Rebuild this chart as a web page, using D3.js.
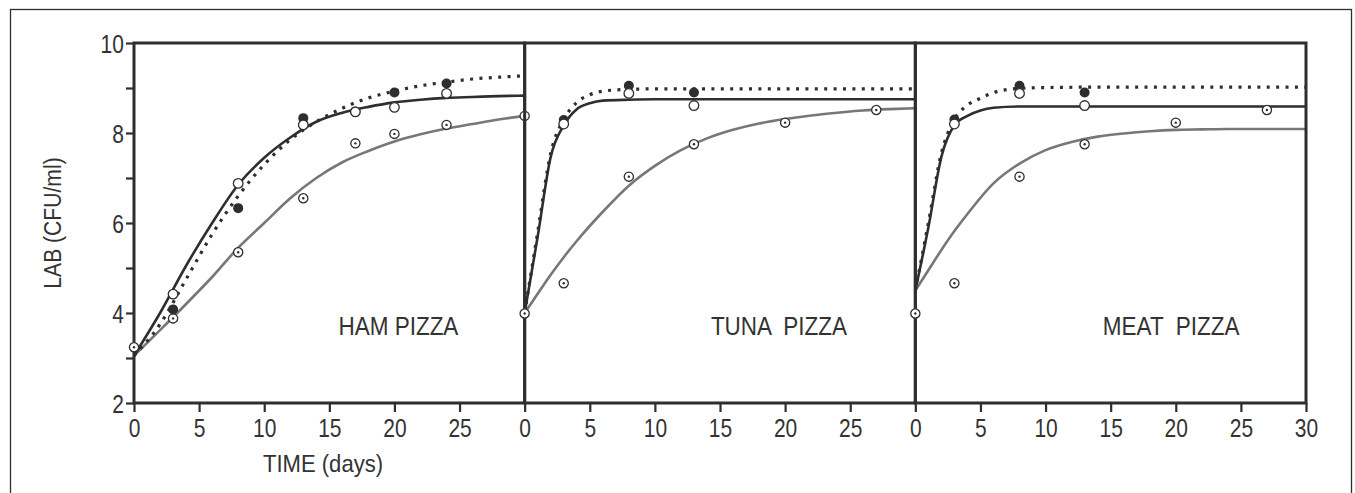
<!DOCTYPE html>
<html>
<head>
<meta charset="utf-8">
<script src="https://cdn.jsdelivr.net/npm/d3@7"></script>
<style>
  html, body { margin: 0; padding: 0; background: #fff; }
  svg { display: block; }
  text { font-family: "Liberation Sans", Arial, sans-serif; fill: #333; }
</style>
</head>
<body>
<svg id="chart" width="1355" height="493"></svg>
<script>
// Panels (one per pizza type)
const panelNames = ["HAM PIZZA", "TUNA  PIZZA", "MEAT  PIZZA"];
// Day at which each panel's label starts
const panelLabelDay = [15.7, 14.3, 14.4];

// Axis ticks
const yTicks = [2, 3, 4, 5, 6, 7, 8, 9, 10];
const yLabelTicks = [2, 4, 6, 8, 10];
const xTicksInner = [0, 5, 10, 15, 20, 25];
const xTicksLast = [0, 5, 10, 15, 20, 25, 30];

// Observed counts: filled circles
const hamFilledDays = [3, 8, 13, 17, 20, 24];
const hamFilled = [4.08, 6.33, 8.33, 8.48, 8.90, 9.10];
const tunaFilledDays = [3, 8, 13];
const tunaFilled = [8.29, 9.05, 8.90];
const meatFilledDays = [3, 8, 13];
const meatFilled = [8.30, 9.05, 8.90];

// Observed counts: open circles
const hamOpenDays = [3, 8, 13, 17, 20, 24];
const hamOpen = [4.42, 6.88, 8.18, 8.47, 8.57, 8.88];
const tunaOpenDays = [3, 8, 13];
const tunaOpen = [8.20, 8.88, 8.61];
const meatOpenDays = [3, 8, 13];
const meatOpen = [8.20, 8.88, 8.61];

// Observed counts: dotted circles
const hamDotDays = [0, 3, 8, 13, 17, 20, 24, 30];
const hamDot = [3.24, 3.88, 5.35, 6.55, 7.77, 7.98, 8.18, 8.38];
const tunaDotDays = [0, 3, 8, 13, 20, 27];
const tunaDot = [3.99, 4.66, 7.03, 7.75, 8.23, 8.51];
const meatDotDays = [0, 3, 8, 13, 20, 27];
const meatDot = [3.99, 4.66, 7.03, 7.75, 8.23, 8.51];

// Fitted growth curves
const hamCurveDays = [0, 2, 4, 6, 8, 10, 12, 14, 16, 18, 20, 22, 24, 26, 28, 30];
const hamSolid  = [3.05, 4.00, 5.05, 6.00, 6.85, 7.45, 7.90, 8.25, 8.45, 8.58, 8.68, 8.74, 8.78, 8.80, 8.82, 8.83];
const hamDotted = [3.05, 3.75, 4.75, 5.75, 6.60, 7.30, 7.85, 8.25, 8.55, 8.78, 8.93, 9.05, 9.13, 9.20, 9.24, 9.27];
const hamGray   = [3.05, 3.62, 4.20, 4.80, 5.45, 6.00, 6.55, 7.00, 7.35, 7.60, 7.81, 7.97, 8.10, 8.20, 8.30, 8.38];

const fastCurveDays = [0, 1, 2, 3, 4, 5, 6, 8, 10, 15, 20, 25, 30];
const tunaSolid  = [4.00, 5.70, 7.47, 8.17, 8.53, 8.66, 8.72, 8.74, 8.75, 8.75, 8.75, 8.75, 8.75];
const tunaDotted = [4.00, 5.80, 7.55, 8.30, 8.68, 8.85, 8.93, 8.97, 8.98, 8.98, 8.98, 8.98, 8.98];
const meatSolid  = [4.50, 5.90, 7.47, 8.17, 8.38, 8.50, 8.56, 8.59, 8.59, 8.59, 8.59, 8.59, 8.59];
const meatDotted = [4.50, 6.00, 7.55, 8.30, 8.62, 8.77, 8.90, 8.99, 9.01, 9.02, 9.02, 9.02, 9.02];

const slowCurveDays = [0, 1, 2, 3, 4, 6, 8, 10, 12, 14, 16, 18, 20, 22, 24, 26, 28, 30];
const tunaGray = [4.00, 4.43, 4.85, 5.24, 5.60, 6.25, 6.83, 7.27, 7.62, 7.88, 8.07, 8.21, 8.31, 8.39, 8.45, 8.50, 8.53, 8.55];
const meatGray = [4.50, 4.95, 5.40, 5.82, 6.20, 6.88, 7.32, 7.62, 7.80, 7.92, 7.99, 8.04, 8.07, 8.08, 8.09, 8.09, 8.09, 8.09];

const zip = (xs, ys) => xs.map((x, i) => ({ x, y: ys[i] }));

const panels = [
  {
    name: panelNames[0], labelDay: panelLabelDay[0], ticks: xTicksInner,
    gray: zip(hamCurveDays, hamGray), solid: zip(hamCurveDays, hamSolid), dotted: zip(hamCurveDays, hamDotted),
    dot: zip(hamDotDays, hamDot), filled: zip(hamFilledDays, hamFilled), open: zip(hamOpenDays, hamOpen)
  },
  {
    name: panelNames[1], labelDay: panelLabelDay[1], ticks: xTicksInner,
    gray: zip(slowCurveDays, tunaGray), solid: zip(fastCurveDays, tunaSolid), dotted: zip(fastCurveDays, tunaDotted),
    dot: zip(tunaDotDays, tunaDot), filled: zip(tunaFilledDays, tunaFilled), open: zip(tunaOpenDays, tunaOpen)
  },
  {
    name: panelNames[2], labelDay: panelLabelDay[2], ticks: xTicksLast,
    gray: zip(slowCurveDays, meatGray), solid: zip(fastCurveDays, meatSolid), dotted: zip(fastCurveDays, meatDotted),
    dot: zip(meatDotDays, meatDot), filled: zip(meatFilledDays, meatFilled), open: zip(meatOpenDays, meatOpen)
  }
];

const svg = d3.select("#chart");
const ink = "#2e2e2e";
const narrow = "scale(0.84,1)";   // condensed look for the lettering

// Outer frame
svg.append("rect")
  .attr("x", 10.5).attr("y", 9.5)
  .attr("width", 1341).attr("height", 520)
  .attr("fill", "none").attr("stroke", ink).attr("stroke-width", 1.3);

const plotLeft = 134, plotRight = 1306, plotTop = 43, plotBottom = 403;
const panelW = (plotRight - plotLeft) / 3;

const y = d3.scaleLinear().domain([2, 10]).range([plotBottom, plotTop]);

// Y axis
const yAxis = d3.axisLeft(y)
  .tickValues(yTicks)
  .tickSize(8)
  .tickPadding(4)
  .tickFormat(d => yLabelTicks.includes(d) ? d3.format("d")(d) : "");
const gy = svg.append("g").attr("transform", `translate(${plotLeft},0)`).call(yAxis);
gy.select(".domain").remove();
gy.selectAll(".tick line").attr("stroke", ink).attr("stroke-width", 2.2);
gy.selectAll(".tick text").attr("font-size", 25).attr("dy", "0.36em").attr("fill", ink)
  .attr("transform", narrow);

// Y axis title
svg.append("text")
  .attr("transform", `translate(53,${(plotTop + plotBottom) / 2}) rotate(-90) scale(0.88,1)`)
  .attr("text-anchor", "middle")
  .attr("dy", "0.35em")
  .attr("font-size", 24)
  .text("LAB (CFU/ml)");

// X axis title
svg.append("text")
  .attr("transform", `translate(323,472) scale(0.92,1)`)
  .attr("text-anchor", "middle")
  .attr("font-size", 24)
  .text("TIME (days)");

panels.forEach((p, i) => {
  const x0 = plotLeft + i * panelW;
  const x = d3.scaleLinear().domain([0, 30]).range([x0, x0 + panelW]);
  const g = svg.append("g");

  // X axis
  const xAxis = d3.axisBottom(x).tickValues(p.ticks).tickSize(9).tickPadding(7).tickFormat(d3.format("d"));
  const gx = g.append("g").attr("transform", `translate(0,${plotBottom})`).call(xAxis);
  gx.select(".domain").remove();
  gx.selectAll(".tick line").attr("stroke", ink).attr("stroke-width", 2.2);
  gx.selectAll(".tick text").attr("font-size", 25).attr("fill", ink).attr("transform", narrow);

  // Fitted curves
  const line = d3.line().x(d => x(d.x)).y(d => y(d.y)).curve(d3.curveMonotoneX);
  g.append("path").datum(p.gray).attr("d", line)
    .attr("fill", "none").attr("stroke", "#777").attr("stroke-width", 2.6);
  g.append("path").datum(p.solid).attr("d", line)
    .attr("fill", "none").attr("stroke", ink).attr("stroke-width", 2.6);
  g.append("path").datum(p.dotted).attr("d", line)
    .attr("fill", "none").attr("stroke", ink).attr("stroke-width", 3.2)
    .attr("stroke-dasharray", "3 6.4");

  // Panel frame
  g.append("rect")
    .attr("x", x0).attr("y", plotTop)
    .attr("width", panelW).attr("height", plotBottom - plotTop)
    .attr("fill", "none").attr("stroke", ink).attr("stroke-width", 3);

  // Markers: dotted circles
  const gd = g.append("g").selectAll("g").data(p.dot).join("g")
    .attr("transform", d => `translate(${x(d.x)},${y(d.y)})`);
  gd.append("circle").attr("r", 4.6).attr("fill", "#fff").attr("stroke", ink).attr("stroke-width", 1.3);
  gd.append("circle").attr("r", 1.2).attr("fill", ink);

  // Markers: filled circles
  g.append("g").selectAll("circle").data(p.filled).join("circle")
    .attr("cx", d => x(d.x)).attr("cy", d => y(d.y))
    .attr("r", 5).attr("fill", ink);

  // Markers: open circles
  g.append("g").selectAll("circle").data(p.open).join("circle")
    .attr("cx", d => x(d.x)).attr("cy", d => y(d.y))
    .attr("r", 4.8).attr("fill", "#fff").attr("stroke", ink).attr("stroke-width", 1.3);

  // Panel label
  g.append("text")
    .attr("transform", `translate(${x(p.labelDay)},335) scale(0.9,1)`)
    .attr("font-size", 25)
    .attr("xml:space", "preserve")
    .style("white-space", "pre")
    .text(p.name);
});
</script>
</body>
</html>
